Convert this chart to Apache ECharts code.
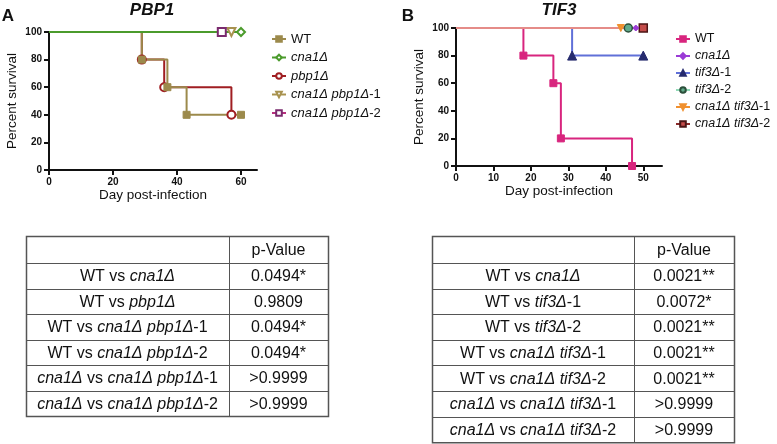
<!DOCTYPE html>
<html>
<head>
<meta charset="utf-8">
<script src="https://cdn.jsdelivr.net/npm/echarts@6/dist/echarts.min.js"></script>
<style>
  html, body { margin: 0; padding: 0; background: #fff; }
  #chart { width: 777px; height: 444px; }
</style>
</head>
<body>
<div id="chart"></div>
<script>
// Panel A - PBP1 survival, [day, percent]
var aWT = [[0, 100], [29, 80], [37, 60], [43, 40], [60, 40]];
var aCna1 = [[0, 100], [60, 100]];
var aPbp1 = [[0, 100], [29, 80], [36, 60], [57, 40]];
var aCnaPbp1 = [[0, 100], [57, 100]];
var aCnaPbp2 = [[0, 100], [54, 100]];

// Panel B - TIF3 survival
var bWT = [[0, 100], [18, 80], [26, 60], [28, 20], [47, 0]];
var bCna1 = [[0, 100], [48, 100]];
var bTif1 = [[0, 100], [31, 80], [50, 80]];
var bTif2 = [[0, 100], [46, 100]];
var bCnaTif1 = [[0, 100], [44, 100]];
var bCnaTif2 = [[0, 100], [50, 100]];

var xTicksA = [0, 20, 40, 60];
var xTicksB = [0, 10, 20, 30, 40, 50];

// legend labels ({i|..} = italic)
var legendA = ['WT', '{i|cna1Δ}', '{i|pbp1Δ}', '{i|cna1Δ pbp1Δ}-1', '{i|cna1Δ pbp1Δ}-2'];
var legendB = ['WT', '{i|cna1Δ}', '{i|tif3Δ}-1', '{i|tif3Δ}-2', '{i|cna1Δ tif3Δ}-1', '{i|cna1Δ tif3Δ}-2'];

// p-value tables
var tableALabels = ['WT vs {i|cna1Δ}', 'WT vs {i|pbp1Δ}', 'WT vs {i|cna1Δ pbp1Δ}-1', 'WT vs {i|cna1Δ pbp1Δ}-2',
  '{i|cna1Δ} vs {i|cna1Δ pbp1Δ}-1', '{i|cna1Δ} vs {i|cna1Δ pbp1Δ}-2'];
var tableAValues = ['0.0494*', '0.9809', '0.0494*', '0.0494*', '>0.9999', '>0.9999'];
var tableBLabels = ['WT vs {i|cna1Δ}', 'WT vs {i|tif3Δ}-1', 'WT vs {i|tif3Δ}-2', 'WT vs {i|cna1Δ tif3Δ}-1',
  'WT vs {i|cna1Δ tif3Δ}-2', '{i|cna1Δ} vs {i|cna1Δ tif3Δ}-1', '{i|cna1Δ} vs {i|cna1Δ tif3Δ}-2'];
var tableBValues = ['0.0021**', '0.0072*', '0.0021**', '0.0021**', '0.0021**', '>0.9999', '>0.9999'];

var FONT = '"Liberation Sans", Arial, sans-serif';

function curve(name, idx, pts, o) {
    return {
        type: 'line',
        name: name,
        xAxisIndex: idx,
        yAxisIndex: idx,
        step: 'end',
        z: o.z,
        symbol: o.symbol,
        symbolSize: o.size || 7,
        symbolRotate: o.rotate || 0,
        showAllSymbol: true,
        clip: false,
        data: pts.map(function (p, i) {
            return i === 0 ? { value: p, symbol: 'none' } : { value: p };
        }),
        lineStyle: { color: o.line, width: 2, opacity: o.hideLine ? 0 : 1 },
        itemStyle: { color: o.fill, borderColor: o.border || o.fill, borderWidth: o.bw || 1 }
    };
}

function axesX(idx, max, ticks) {
    return {
        type: 'value', gridIndex: idx, min: 0, max: max, interval: ticks[1],
        name: 'Day post-infection', nameLocation: 'middle', nameGap: 17,
        nameTextStyle: { fontFamily: FONT, fontSize: 13.5, color: '#111' },
        axisLine: { show: true, onZero: false, lineStyle: { color: '#111', width: 2 } },
        axisTick: { show: true, length: 5, customValues: ticks, lineStyle: { color: '#111', width: 2 } },
        axisLabel: { customValues: ticks, margin: 7, fontFamily: FONT, fontSize: 10, fontWeight: 'bold', color: '#111' },
        splitLine: { show: false }
    };
}

function axesY(idx) {
    return {
        type: 'value', gridIndex: idx, min: 0, max: 100, interval: 20,
        name: 'Percent survival', nameLocation: 'middle', nameGap: 30,
        nameTextStyle: { fontFamily: FONT, fontSize: 13.5, color: '#111' },
        axisLine: { show: true, onZero: false, lineStyle: { color: '#111', width: 2 } },
        axisTick: { show: true, length: 5, lineStyle: { color: '#111', width: 2 } },
        axisLabel: { margin: 7, fontFamily: FONT, fontSize: 10, fontWeight: 'bold', color: '#111' },
        splitLine: { show: false }
    };
}

function legendBox(left, names, gap, fs, overrides) {
    return {
        orient: 'vertical', left: left, top: 32, padding: 0,
        itemWidth: 14, itemHeight: 7, itemGap: gap,
        data: names.map(function (n) {
            return overrides[n] ? Object.assign({ name: n }, overrides[n]) : { name: n };
        }),
        formatter: function (n) { return n.slice(2); },
        textStyle: {
            fontFamily: FONT, fontSize: fs, color: '#111', lineHeight: 14,
            rich: { i: { fontStyle: 'italic', fontFamily: FONT, fontSize: fs, color: '#111' } }
        }
    };
}

var nA = legendA.map(function (s) { return 'A:' + s; });
var nB = legendB.map(function (s) { return 'B:' + s; });

function table(x0, x1, xd, y0, headH, rowH, labels, values) {
    var els = [];
    var h = headH + rowH * labels.length;
    els.push({ type: 'rect', shape: { x: x0 + 0.5, y: y0 + 0.5, width: x1 - x0, height: h },
        style: { fill: 'none', stroke: '#555', lineWidth: 1.5 } });
    els.push({ type: 'line', shape: { x1: xd + 0.5, y1: y0, x2: xd + 0.5, y2: y0 + h },
        style: { stroke: '#555', lineWidth: 1 } });
    for (var k = 0; k < labels.length; k++) {
        var yy = Math.round(y0 + headH + k * rowH) + 0.5;
        els.push({ type: 'line', shape: { x1: x0, y1: yy, x2: x1, y2: yy }, style: { stroke: '#555', lineWidth: 1 } });
    }
    var ts = function (t, x, y) {
        return { type: 'text', x: x, y: y, style: { text: t, align: 'center', verticalAlign: 'middle',
            fontFamily: FONT, fontSize: 16, fill: '#111',
            rich: { i: { fontStyle: 'italic', fontFamily: FONT, fontSize: 16, fill: '#111' } } } };
    };
    els.push(ts('p-Value', (xd + x1) / 2, y0 + headH / 2 + 1));
    for (var r = 0; r < labels.length; r++) {
        var cy = y0 + headH + rowH * (r + 0.5) + 1;
        els.push(ts(labels[r], (x0 + xd) / 2, cy));
        els.push(ts(values[r], (xd + x1) / 2, cy));
    }
    return els;
}

function label(t, x, y, size, italic) {
    return { type: 'text', x: x, y: y, style: { text: t, align: 'center', verticalAlign: 'middle',
        fontFamily: FONT, fontSize: size, fontWeight: 'bold', fontStyle: italic ? 'italic' : 'normal', fill: '#111' } };
}

var chart = echarts.init(document.getElementById('chart'));
chart.setOption({
    animation: false,
    backgroundColor: '#fff',
    grid: [
        { left: 49, top: 32, width: 208, height: 138 },
        { left: 456, top: 28, width: 206, height: 138 }
    ],
    xAxis: [axesX(0, 65, xTicksA), axesX(1, 55, xTicksB)],
    yAxis: [axesY(0), axesY(1)],
    legend: [
        legendBox(271, nA, 4.5, 13, {
            'A:{i|cna1Δ pbp1Δ}-1': { lineStyle: { opacity: 1, color: '#A8924F' } },
            'A:{i|cna1Δ pbp1Δ}-2': { lineStyle: { opacity: 1, color: '#B8307E' } }
        }),
        legendBox(675, nB, 3, 12.5, {
            'B:{i|cna1Δ}': { lineStyle: { opacity: 1, color: '#9B3BD6' } },
            'B:{i|tif3Δ}-2': { lineStyle: { opacity: 1, color: '#8FD9B6' } },
            'B:{i|cna1Δ tif3Δ}-1': { lineStyle: { opacity: 1, color: '#F0902E' } },
            'B:{i|cna1Δ tif3Δ}-2': { lineStyle: { opacity: 1, color: '#8B2A2A' } }
        })
    ],
    series: [
        curve(nA[2], 0, aPbp1, { z: 2, symbol: 'emptyCircle', size: 8, line: '#A01E22', fill: '#A01E22', border: '#A01E22', bw: 1.5 }),
        curve(nA[0], 0, aWT, { z: 2, symbol: 'rect', size: 7, line: '#9C8A4C', fill: '#9C8A4C' }),
        curve(nA[1], 0, aCna1, { z: 3, symbol: 'emptyDiamond', size: 8, line: '#4B9B2C', fill: '#4B9B2C', border: '#4B9B2C', bw: 1.5 }),
        curve(nA[3], 0, aCnaPbp1, { z: 4, symbol: 'emptyTriangle', rotate: 180, size: 8, line: '#A8924F', fill: '#A8924F', border: '#A8924F', bw: 1.5, hideLine: true }),
        curve(nA[4], 0, aCnaPbp2, { z: 4, symbol: 'emptyRect', size: 8, line: '#B8307E', fill: '#7A2A6E', border: '#7A2A6E', bw: 1.5, hideLine: true }),

        curve(nB[0], 1, bWT, { z: 2, symbol: 'rect', size: 7, line: '#D8257E', fill: '#D8257E' }),
        curve(nB[2], 1, bTif1, { z: 2, symbol: 'triangle', size: 9, line: '#6070D8', fill: '#262B6E', border: '#262B6E' }),
        curve(nB[5], 1, bCnaTif2, { z: 3, symbol: 'rect', size: 8, line: '#E58C88', fill: '#C44C4A', border: '#4B1515', bw: 1.5 }),
        curve(nB[1], 1, bCna1, { z: 4, symbol: 'diamond', size: 6, line: '#9B3BD6', fill: '#9B3BD6', hideLine: true }),
        curve(nB[3], 1, bTif2, { z: 4, symbol: 'circle', size: 8, line: '#8FD9B6', fill: '#62AA8A', border: '#2B4F3A', bw: 1.5, hideLine: true }),
        curve(nB[4], 1, bCnaTif1, { z: 4, symbol: 'triangle', rotate: 180, size: 7, line: '#F0902E', fill: '#F0902E', hideLine: true })
    ],
    graphic: [
        label('A', 8, 16, 17, false),
        label('PBP1', 152, 10, 17, true),
        label('B', 408, 16, 17, false),
        label('TIF3', 559, 10, 17, true)
    ].concat(table(26, 328, 229, 236, 27, 25.5, tableALabels, tableAValues))
     .concat(table(432, 734, 634, 236, 27, 25.6, tableBLabels, tableBValues))
});
</script>
</body>
</html>
